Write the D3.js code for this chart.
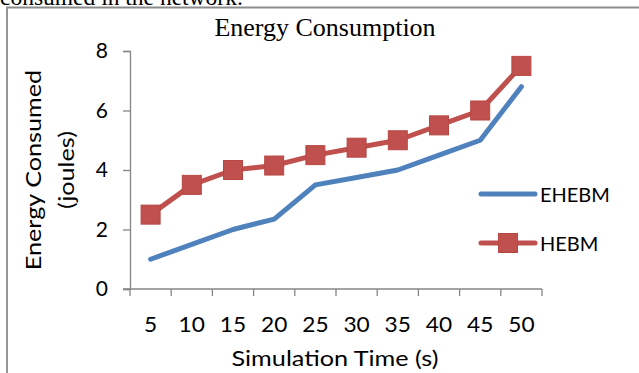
<!DOCTYPE html>
<html>
<head>
<meta charset="utf-8">
<script src="https://cdn.jsdelivr.net/npm/d3@7"></script>
<style>
  html, body { margin: 0; padding: 0; background: #fff; }
  svg { display: block; }
</style>
</head>
<body>
<svg id="chart" width="639" height="373"></svg>
<script>
// Simulation time categories (s)
const categories = ["5", "10", "15", "20", "25", "30", "35", "40", "45", "50"];
// Energy consumed (joules) per scheme
const ehebm = [1.0, 1.5, 2.0, 2.35, 3.5, 3.75, 4.0, 4.5, 5.0, 6.8];
const hebm = [2.5, 3.5, 4.0, 4.15, 4.5, 4.75, 5.0, 5.5, 6.0, 7.5];
const yTicks = [0, 2, 4, 6, 8];

const seriesList = [
  { name: "EHEBM", values: ehebm, color: "#4F81BD", marker: false },
  { name: "HEBM", values: hebm, color: "#C0504D", marker: true }
];

const svg = d3.select("#chart");
const font = "Lato, 'Open Sans', sans-serif";
const serif = "'Liberation Serif', 'Times New Roman', serif";
const axisColor = "#868686";

// Widen a text run horizontally by a factor (the sans face is a bit wider here)
function stretch(sel, factor) {
  sel.each(function () {
    const w = this.getComputedTextLength();
    d3.select(this).attr("textLength", w * factor).attr("lengthAdjust", "spacingAndGlyphs");
  });
}

// Caption line from the surrounding text, clipped at the top edge
svg.append("text")
  .attr("x", 0).attr("y", 4.5)
  .attr("font-family", serif)
  .attr("font-size", 23.5)
  .attr("fill", "#000")
  .text("consumed in the network.");

// Chart frame
svg.append("path")
  .attr("d", "M7,373 V7.5 H639")
  .attr("fill", "none")
  .attr("stroke", "#8c8c8c")
  .attr("stroke-width", 1.8);

const x = d3.scaleBand().domain(categories).range([130, 542]).padding(0);
const y = d3.scaleLinear().domain([0, 8]).range([289, 51]);

// Title
svg.append("text")
  .attr("x", 325).attr("y", 36)
  .attr("text-anchor", "middle")
  .attr("font-family", serif)
  .attr("font-size", 26)
  .attr("fill", "#000")
  .text("Energy Consumption");

// Y axis
const yAxis = svg.append("g")
  .attr("transform", "translate(130,0)")
  .call(d3.axisLeft(y).tickValues(yTicks).tickSize(7).tickPadding(15).tickFormat(d3.format("d")));
yAxis.select(".domain").attr("stroke", axisColor).attr("stroke-width", 1.3);
yAxis.selectAll(".tick line").attr("stroke", axisColor).attr("stroke-width", 1.3);
yAxis.selectAll(".tick text")
  .attr("font-family", font).attr("font-size", 21).attr("fill", "#000");

// X axis: ticks sit on the category boundaries
const boundaries = categories.map(c => x(c)).concat([x.range()[1]]);
const xAxisG = svg.append("g").attr("transform", "translate(0,289)");
xAxisG.append("line")
  .attr("x1", x.range()[0] - 7).attr("x2", x.range()[1])
  .attr("stroke", axisColor).attr("stroke-width", 1.3);
xAxisG.selectAll("line.tick")
  .data(boundaries)
  .join("line")
  .attr("class", "tick")
  .attr("x1", d => d).attr("x2", d => d)
  .attr("y1", 0).attr("y2", 7)
  .attr("stroke", axisColor).attr("stroke-width", 1.3);
const catLabels = xAxisG.selectAll("text.cat")
  .data(categories)
  .join("text")
  .attr("class", "cat")
  .attr("x", d => x(d) + x.bandwidth() / 2)
  .attr("y", 43)
  .attr("text-anchor", "middle")
  .attr("font-family", font).attr("font-size", 21).attr("fill", "#000")
  .text(d => d);
stretch(catLabels, 1.08);

// Axis titles
const xTitle = svg.append("text")
  .attr("x", 335).attr("y", 366)
  .attr("text-anchor", "middle")
  .attr("font-family", font).attr("font-size", 21).attr("fill", "#000")
  .text("Simulation Time (s)");
stretch(xTitle, 1.2);

const yTitle = svg.append("g")
  .attr("transform", "translate(0,170) rotate(-90)")
  .attr("font-family", font).attr("font-size", 21).attr("fill", "#000")
  .attr("text-anchor", "middle");
const yLines = yTitle.selectAll("text")
  .data(["Energy Consumed", "(joules)"])
  .join("text")
  .attr("x", 0)
  .attr("y", (d, i) => 41 + i * 33)
  .text(d => d);
stretch(yLines, 1.2);

// Series
const cx = c => x(c) + x.bandwidth() / 2;
const line = d3.line().x((d, i) => cx(categories[i])).y(d => y(d));
const markerSize = 19;

seriesList.forEach(s => {
  svg.append("path")
    .datum(s.values)
    .attr("d", line)
    .attr("fill", "none")
    .attr("stroke", s.color)
    .attr("stroke-width", 5)
    .attr("stroke-linejoin", "round")
    .attr("stroke-linecap", "round");
  if (s.marker) {
    svg.selectAll(null)
      .data(s.values)
      .join("rect")
      .attr("x", (d, i) => cx(categories[i]) - markerSize / 2)
      .attr("y", d => y(d) - markerSize / 2)
      .attr("width", markerSize).attr("height", markerSize)
      .attr("fill", s.color)
      .attr("stroke", "#b84744")
      .attr("stroke-width", 1);
  }
});

// Legend
const legend = svg.append("g");
seriesList.forEach((s, i) => {
  const ly = 194 + i * 49;
  legend.append("line")
    .attr("x1", 481).attr("x2", 535)
    .attr("y1", ly).attr("y2", ly)
    .attr("stroke", s.color).attr("stroke-width", 5)
    .attr("stroke-linecap", "round");
  if (s.marker) {
    legend.append("rect")
      .attr("x", 508 - markerSize / 2).attr("y", ly - markerSize / 2)
      .attr("width", markerSize).attr("height", markerSize)
      .attr("fill", s.color)
      .attr("stroke", "#b84744").attr("stroke-width", 1);
  }
  legend.append("text")
    .attr("x", 540).attr("y", ly + 8)
    .attr("font-family", font).attr("font-size", 20).attr("fill", "#000")
    .text(s.name);
});
</script>
</body>
</html>
